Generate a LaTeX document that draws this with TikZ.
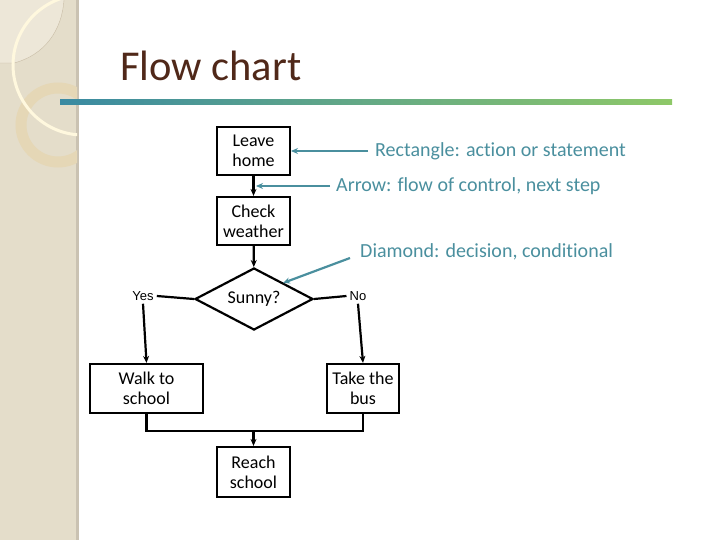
\documentclass[tikz,border=0pt]{standalone}
\usepackage{fontspec}
\setmainfont{Carlito}[Ligatures=NoCommon]
\newfontfamily\yesfont{Liberation Sans}
\usetikzlibrary{shapes.geometric,arrows.meta}
\definecolor{band}{RGB}{228,221,202}
\definecolor{bandedge}{RGB}{202,194,178}
\definecolor{patch}{RGB}{237,231,216}
\definecolor{patchline}{RGB}{200,188,165}
\definecolor{ringc}{RGB}{229,215,182}
\definecolor{cream}{RGB}{255,248,222}
\definecolor{titlec}{RGB}{80,40,25}
\definecolor{teal}{RGB}{74,143,158}
\definecolor{gstart}{RGB}{58,138,162}
\definecolor{gend}{RGB}{142,200,104}
\tikzset{
  box/.style={draw, line width=2.2pt, align=center, inner sep=0pt,
    font=\fontsize{18}{20}\selectfont, minimum height=48pt},
  flow/.style={line width=2.2pt, -{Stealth[length=7pt,width=6pt]}},
  plain/.style={line width=2.2pt},
  note/.style={text=teal, font=\fontsize{20}{22}\selectfont, inner sep=0pt, anchor=west},
  notearrow/.style={draw=teal, line width=2.2pt, -{Stealth[length=7pt,width=6pt]}},
  small/.style={font=\yesfont\fontsize{13}{15}\selectfont, inner sep=3pt}
}
\begin{document}
\begin{tikzpicture}[x=1pt,y=-1pt]
\useasboundingbox (0,0) rectangle (720,540);
% background band
\fill[band] (0,0) rectangle (77,540);
\fill[bandedge] (76,0) rectangle (79,540);
\begin{scope}
\clip (0,0) rectangle (77,540);
\fill[patch] (0,0) -- (0,63) -- (14,63) .. controls (45,55) and (62,30) .. (64,0) -- cycle;
\draw[patchline, line width=0.4pt] (0,63) -- (14,63) .. controls (45,55) and (62,30) .. (64,0);
\draw[ringc, line width=11pt] (58,125) circle (37);
\draw[cream, line width=3pt] (83,65) circle (70);
\end{scope}
% title
\node[anchor=base west, inner sep=0pt, text=titlec, font=\fontsize{42.5}{46}\selectfont] (title) at (120,81) {Flow chart};
\shade[left color=gstart, right color=gend] (60,100) rectangle (672,105);
% flowchart nodes
\node[box, minimum width=73pt] (leave) at (253.5,151) {Leave\\home};
\node[box, minimum width=73pt] (check) at (253.5,221) {Check\\weather};
\node[draw, diamond, line width=2.2pt, inner sep=0pt, minimum width=118pt, minimum height=62pt, aspect=1.9, font=\fontsize{18}{20}\selectfont] (sunny) at (254,299) {Sunny?};
\node[box, minimum width=113pt, minimum height=49pt] (walk) at (146.5,388.5) {Walk to\\school};
\node[box, minimum width=72pt, minimum height=49pt] (bus) at (363,388.5) {Take the\\bus};
\node[box, minimum width=73pt, minimum height=50pt] (reach) at (253.5,472) {Reach\\school};
\node[small] (yes) at (143,296) {Yes};
\node[small] (no) at (358,296) {No};
\coordinate (merge) at (253.5,431);
% connectors
\draw[flow] (leave) -- (check);
\draw[flow] (check) -- (sunny);
\draw[plain] (sunny.west) -- (yes.east);
\draw[plain] (sunny.east) -- (no.west);
\draw[flow] (yes.south) -- (walk.north);
\draw[flow] (no.south) -- (bus.north);
\draw[plain] (walk.south) |- (merge) -| (bus.south);
\draw[flow] (merge) -- (reach);
% annotations
\node[note] (n1) at (375,151) {Rectangle: action or statement};
\node[note] (n2) at (336,186) {Arrow: flow of control, next step};
\node[note] (n3) at (360,252) {Diamond: decision, conditional};
\coordinate (t1) at (291,151);
\coordinate (t2) at (256,186);
\coordinate (t3) at (283,283);
\draw[notearrow] ([xshift=-7pt]n1.west) -- (t1);
\draw[notearrow] ([xshift=-6pt]n2.west) -- (t2);
\draw[notearrow] ([xshift=-10pt,yshift=-6pt]n3.west) -- (t3);
\end{tikzpicture}
\end{document}
